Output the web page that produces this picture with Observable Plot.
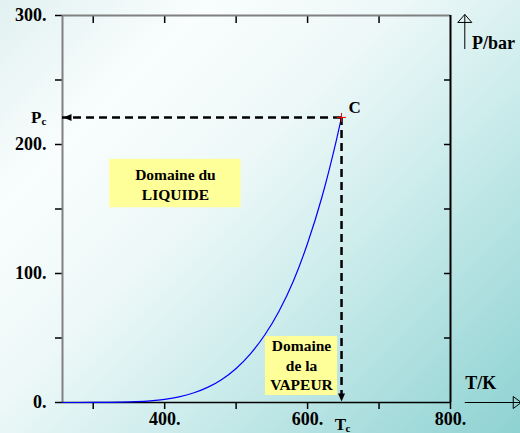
<!DOCTYPE html>
<html><head><meta charset="utf-8">
<script src="https://cdn.jsdelivr.net/npm/d3@7"></script>
<script src="https://cdn.jsdelivr.net/npm/@observablehq/plot@0.6"></script>
<style>
html,body{margin:0;padding:0;}
body{width:520px;height:433px;overflow:hidden;background:linear-gradient(135deg,#e2f1f1 0%,#f9fdfd 22%,#eef8f8 42%,#d2eeee 60%,#b0e0e0 80%,#8ed2d2 100%);}
#chart svg{display:block;}
#chart svg text{font-family:'Liberation Serif','Times New Roman',serif;}
</style></head><body><div id="chart"></div><script>
// Saturation vapour pressure of water
const temps = [257, 273.16, 300, 320, 340, 360, 380, 400, 420, 440, 460, 480, 500, 520, 540, 560, 580, 600, 620, 640, 647.5];
const pressures = [0.002, 0.006, 0.035, 0.106, 0.271, 0.621, 1.29, 2.46, 4.37, 7.33, 11.7, 17.9, 26.4, 37.7, 52.3, 70.8, 94.0, 123.4, 159.1, 202.7, 221];
const Tc = 647.5, Pc = 221;
const xDomain = [257, 800];
const yDomain = [0, 300];
const xTicks = [300, 400, 500, 600, 700, 800];
const xLabels = [400, 600, 800];
const yTicks = [0, 50, 100, 150, 200, 250, 300];
const yLabels = [0, 100, 200, 300];
const topTicks = [300, 400, 500, 600, 700];
const rightTicks = [50, 100, 150, 200, 250];
const boxes = [
  {x1: 323, x2: 507, y1: 151, y2: 188.5, text: "Domaine du\nLIQUIDE", tx: 415, ty: 169.5},
  {x1: 541, x2: 642, y1: 5.4, y2: 51.2, text: "Domaine\nde la\nVAPEUR", tx: 591.5, ty: 29.5}
];
const axisArrows = [
  {x1: 820, y1: 0, x2: 899, y2: 0, head: "right"},
  {x1: 820, y1: 274, x2: 820, y2: 300.8, head: "up"}
];
const axisNames = [
  {x: 830, y: 278.3, text: "P/bar"},
  {x: 820.5, y: 14.7, text: "T/K"}
];

const curve = temps.map((t, i) => ({T: t, P: pressures[i]}));
const crit = [{T: Tc, P: Pc}];

const sym = (f) => ({draw(ctx, size) { const r = Math.sqrt(size / Math.PI); f(ctx, r); }});
const headLeft = sym((c, r) => { c.moveTo(0, 0); c.lineTo(2 * r, -0.875 * r); c.lineTo(2 * r, 0.875 * r); c.closePath(); });
const headDown = sym((c, r) => { c.moveTo(0, 0); c.lineTo(-0.875 * r, -2 * r); c.lineTo(0.875 * r, -2 * r); c.closePath(); });
const headUpOpen = sym((c, r) => { c.moveTo(0, 0); c.lineTo(-1.75 * r, 2 * r); c.lineTo(1.75 * r, 2 * r); c.closePath(); });
const headRightOpen = sym((c, r) => { c.moveTo(0, 0); c.lineTo(-2 * r, -1.5 * r); c.lineTo(-2 * r, 1.5 * r); c.closePath(); });
const cross = sym((c, r) => { c.moveTo(-r, 0); c.lineTo(r, 0); c.moveTo(0, -r); c.lineTo(0, r); });

const font = "'Liberation Serif', 'Times New Roman', serif";
const plot = Plot.plot({
  width: 520, height: 433,
  marginLeft: 62, marginRight: 70, marginTop: 15, marginBottom: 31,
  x: {domain: xDomain},
  y: {domain: yDomain},
  style: {background: "transparent", fontFamily: font, fontWeight: "bold", fontSize: "18px", color: "black", overflow: "visible"},
  marks: [
    Plot.rect(boxes, {x1: "x1", x2: "x2", y1: "y1", y2: "y2", fill: "#ffff99"}),
    Plot.text(boxes, {x: "tx", y: "ty", text: "text", lineHeight: 1.25, fontSize: 15.5, fontWeight: "bold", fontFamily: font, fill: "black"}),
    Plot.axisX({ticks: xTicks, tickSize: 7, tickPadding: 3, tickFormat: d => xLabels.includes(d) ? d + "." : "", label: null, strokeWidth: 1.5, fontFamily: font}),
    Plot.axisX({anchor: "top", ticks: topTicks, tickSize: 7, insetTop: 7, tickFormat: () => "", label: null, strokeWidth: 1.5}),
    Plot.axisY({ticks: yTicks, tickSize: 7, tickPadding: 9, tickFormat: d => yLabels.includes(d) ? d + "." : "", label: null, strokeWidth: 1.5, fontFamily: font}),
    Plot.axisY({anchor: "right", ticks: rightTicks, tickSize: 7, insetRight: 7, tickFormat: () => "", label: null, strokeWidth: 1.5}),
    Plot.ruleX([xDomain[0]], {stroke: "#808080", strokeWidth: 2}),
    Plot.ruleY([yDomain[1]], {stroke: "#808080", strokeWidth: 2}),
    Plot.ruleX([xDomain[1]], {stroke: "black", strokeWidth: 2}),
    Plot.ruleY([yDomain[0]], {stroke: "black", strokeWidth: 1.5}),
    Plot.line(curve, {x: "T", y: "P", stroke: "#0000ff", strokeWidth: 1.2, curve: "monotone-x"}),
    Plot.ruleY(crit, {y: "P", x1: "T", x2: () => xDomain[0], stroke: "black", strokeWidth: 2.5, strokeDasharray: "8,5"}),
    Plot.ruleX(crit, {x: "T", y1: "P", y2: () => yDomain[0], stroke: "black", strokeWidth: 2.5, strokeDasharray: "8,5"}),
    Plot.dot(crit, {x: () => xDomain[0], y: "P", symbol: headLeft, r: 4, fill: "black", stroke: "none", dx: 1}),
    Plot.dot(crit, {x: "T", y: () => yDomain[0], symbol: headDown, r: 4, fill: "black", stroke: "none", dy: -1}),
    Plot.dot(crit, {x: "T", y: "P", symbol: cross, r: 4.5, stroke: "red", strokeWidth: 1, fill: "none"}),
    Plot.text(crit, {x: "T", y: "P", text: () => "C", dx: 7, dy: -10, textAnchor: "start", fontSize: 17, fontFamily: font}),
    Plot.text(crit, {x: () => xDomain[0], y: "P", text: () => "P", dx: -21, textAnchor: "end", fontSize: 17, fontFamily: font}),
    Plot.text(crit, {x: () => xDomain[0], y: "P", text: () => "c", dx: -21, dy: 4, textAnchor: "start", fontSize: 11, fontFamily: font}),
    Plot.text(crit, {x: "T", y: () => yDomain[0], text: () => "T", dx: -1, dy: 22, fontSize: 17, fontFamily: font}),
    Plot.text(crit, {x: "T", y: () => yDomain[0], text: () => "c", dx: 4, dy: 26, textAnchor: "start", fontSize: 11, fontFamily: font}),
    Plot.link(axisArrows, {x1: "x1", y1: "y1", x2: "x2", y2: "y2", stroke: "black", strokeWidth: 1}),
    Plot.dot(axisArrows.filter(d => d.head === "right"), {x: "x2", y: "y2", symbol: headRightOpen, r: 4, fill: "none", stroke: "black", strokeWidth: 1}),
    Plot.dot(axisArrows.filter(d => d.head === "up"), {x: "x2", y: "y2", symbol: headUpOpen, r: 4, fill: "none", stroke: "black", strokeWidth: 1}),
    Plot.text(axisNames, {x: "x", y: "y", text: "text", textAnchor: "start", fontSize: 18, fontFamily: font})
  ]
});
document.getElementById("chart").append(plot);
</script></body></html>
